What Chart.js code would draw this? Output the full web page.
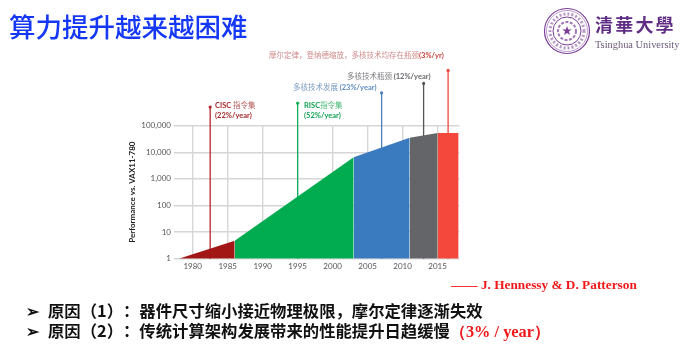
<!DOCTYPE html>
<html lang="zh">
<head>
<meta charset="utf-8">
<title>算力提升越来越困难</title>
<script src="https://cdn.jsdelivr.net/npm/chart.js@4"></script>
<style>
html,body{margin:0;padding:0;background:#fff;overflow:hidden}
#page{position:relative;width:685px;height:352px;overflow:hidden}
#stage{position:absolute;left:0;top:0}
.t{position:absolute;white-space:nowrap;line-height:1;font-family:"Noto Sans CJK SC",sans-serif}
.note{font-size:7.5px;font-family:"Noto Sans CJK SC",sans-serif}
.note b{font-family:Lato,sans-serif;font-weight:700}
.line{font-size:16.35px;font-weight:700;color:#111;text-spacing-trim:space-all}
.red{color:#f01818;font-family:"Liberation Serif",serif}
</style>
</head>
<body>
<div id="page">
  <canvas id="stage" width="685" height="352"></canvas>

  <div class="t" style="left:9px;top:13px;font-size:26.5px;font-weight:500;color:#1438f5">算力提升越来越困难</div>

  <svg style="position:absolute;left:540px;top:4px" width="54" height="54" viewBox="-27 -27 54 54">
    <g fill="none" stroke="#7b3f98">
      <circle r="22.5" stroke-width="1.2"/>
      <circle r="20.5" stroke-width=".5"/>
      <circle r="14" stroke-width="1"/>
      <circle r="17" stroke-width="3" stroke-dasharray="2 2" opacity=".55"/>
      <circle r="9" stroke-width="2" stroke-dasharray="3 1.5" opacity=".7"/>
    </g>
    <polygon fill="#7b3f98" points="0,-5 1.2,-1.6 4.8,-1.5 1.9,.6 3,4 0,2 -3,4 -1.9,.6 -4.8,-1.5 -1.2,-1.6"/>
  </svg>
  <div class="t" style="left:595px;top:15px;font-size:18px;font-weight:700;color:#5f2d84;letter-spacing:2.2px;font-family:'Noto Sans CJK TC',sans-serif">清華大學</div>
  <div class="t" style="left:595px;top:40px;font-size:10.4px;color:#6b5a78;font-family:'Liberation Serif',serif">Tsinghua University</div>

  <div class="t note" style="left:269px;top:51px;color:#cf8c8c">摩尔定律，登纳德缩放，多核技术均存在瓶颈<b style="color:#c9443c">(3%/yr)</b></div>
  <div class="t note" style="left:347px;top:72px;color:#7e7e82">多核技术瓶颈 <b style="color:#67686c">(12%/year)</b></div>
  <div class="t note" style="left:293px;top:83px;color:#7c9cc2">多核技术发展 <b style="color:#5f8cc0">(23%/year)</b></div>
  <div class="t note" style="left:215px;top:101px;color:#b35a5a"><b style="color:#a52a2a">CISC</b> 指令集</div>
  <div class="t note" style="left:215px;top:111px"><b style="color:#a52a2a">(22%/year)</b></div>
  <div class="t note" style="left:304px;top:101px;color:#4cb878"><b style="color:#12a355">RISC</b>指令集</div>
  <div class="t note" style="left:304px;top:111px"><b style="color:#12a355">(52%/year)</b></div>

  <div class="t red" style="left:451px;top:278px;font-size:13.3px;font-weight:700">—— J. Hennessy &amp; D. Patterson</div>

  <div class="t line" style="left:26px;top:302px">➢</div>
  <div class="t line" style="left:48px;top:302px">原因（1）：器件尺寸缩小接近物理极限，摩尔定律逐渐失效</div>
  <div class="t line" style="left:26px;top:322px">➢</div>
  <div class="t line" style="left:48px;top:322px">原因（2）：传统计算架构发展带来的性能提升日趋缓慢<span class="red">（3% / year）</span></div>
</div>

<script>
// performance curve
const years = [1978, 1986, 2003, 2011, 2015, 2018];
const perf = [1, 4.75, 6500, 35000, 53000, 53000];
const segColors = ['#a31616', '#00ac4f', '#3a7bbf', '#636569', '#f4483c'];

// marker lines above the curve
const spikeYears = [1982.5, 1995, 2007, 2013, 2016.5];
const spikeTops = [5e5, 7e5, 1.7e6, 3.9e6, 1.2e7];
const spikeColors = ['#b5262c', '#12b15c', '#4a80bd', '#55565a', '#f0463c'];

const xTicks = [1980, 1985, 1990, 1995, 2000, 2005, 2010, 2015];
const yTicks = [1, 10, 100, 1000, 10000, 100000];

const datasets = [];
for (var i = 0; i < segColors.length; ++i) {
    datasets.push({
        data: [{x: years[i], y: perf[i]}, {x: years[i + 1], y: perf[i + 1]}],
        backgroundColor: segColors[i],
        borderWidth: 0,
        pointRadius: 0,
        tension: 0,
        fill: 'start',
        order: 1
    });
}
for (var j = 0; j < spikeYears.length; ++j) {
    datasets.push({
        data: [{x: spikeYears[j], y: 1}, {x: spikeYears[j], y: spikeTops[j]}],
        borderColor: spikeColors[j],
        borderWidth: 1.3,
        pointRadius: 0,
        fill: false,
        clip: false,
        order: 2
    });
}

// points are not drawn outside the chart area, so the dots go here
const spikeDots = {
    id: 'spikeDots',
    afterDatasetsDraw(chart) {
        const ctx = chart.ctx;
        for (var k = 0; k < spikeYears.length; ++k) {
            ctx.beginPath();
            ctx.fillStyle = spikeColors[k];
            ctx.arc(chart.scales.x.getPixelForValue(spikeYears[k]), chart.scales.y.getPixelForValue(spikeTops[k]), 1.6, 0, Math.PI * 2);
            ctx.fill();
        }
    }
};

const tickFont = {family: 'Lato, "Liberation Sans", sans-serif', size: 8};

new Chart(document.getElementById('stage'), {
    type: 'line',
    data: {datasets: datasets},
    plugins: [spikeDots],
    options: {
        responsive: false,
        animation: false,
        layout: {padding: {left: 120, right: 225.7, top: 125.7, bottom: 73}},
        plugins: {legend: {display: false}, tooltip: {enabled: false}},
        scales: {
            x: {
                type: 'linear',
                min: 1977.33,
                max: 2018.1,
                afterBuildTicks(scale) { scale.ticks = xTicks.map(v => ({value: v})); },
                afterFit(scale) { scale.height = 20.3; },
                grid: {color: '#d6d6d6', lineWidth: 1.4, drawTicks: false},
                border: {display: false},
                ticks: {font: tickFont, color: '#555', padding: 3, maxRotation: 0, callback: v => String(v)}
            },
            y: {
                type: 'logarithmic',
                min: 1,
                max: 100000,
                afterBuildTicks(scale) { scale.ticks = yTicks.map(v => ({value: v})); },
                afterFit(scale) { scale.width = 54; },
                grid: {color: '#d6d6d6', lineWidth: 1.4, drawTicks: false},
                border: {display: false},
                ticks: {font: tickFont, color: '#555', padding: 3, callback: v => v.toLocaleString('en-US')},
                title: {
                    display: true,
                    text: 'Performance vs. VAX11-780',
                    color: '#222',
                    padding: {top: 8, bottom: 0},
                    font: {family: 'Lato, "Liberation Sans", sans-serif', size: 8, weight: 'bold'}
                }
            }
        }
    }
});
</script>
</body>
</html>
